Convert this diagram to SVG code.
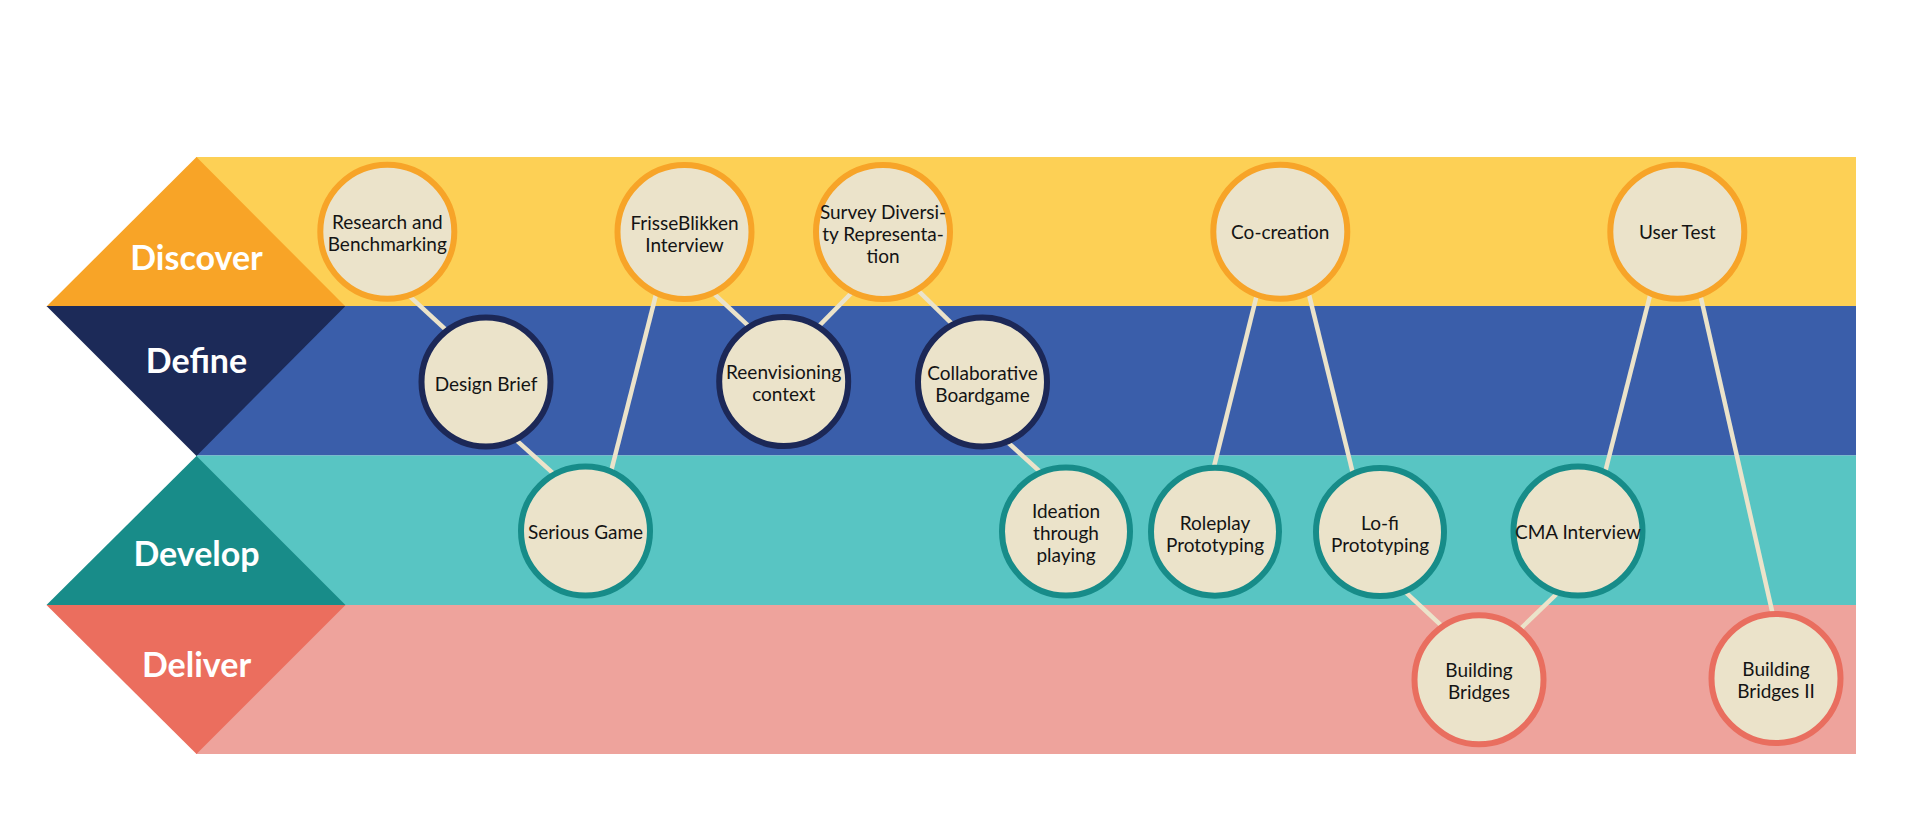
<svg xmlns="http://www.w3.org/2000/svg" width="1920" height="831" viewBox="0 0 1920 831">
  <style>
    .band-discover { fill: #fdd055; }
    .band-define { fill: #3a5eaa; }
    .band-develop { fill: #58c5c3; }
    .band-deliver { fill: #eea39c; }
    .tri-discover { fill: #f8a427; }
    .tri-define { fill: #1c2a58; }
    .tri-develop { fill: #188c89; }
    .tri-deliver { fill: #eb6e5e; }
    .phase { font-family: Lato, "Liberation Sans", sans-serif; font-weight: 700; font-size: 34px; fill: #ffffff; text-anchor: middle; }
    .node circle { fill: #ebe3ca; stroke-width: 6; }
    .n-discover circle { stroke: #f7a428; }
    .n-define circle { stroke: #1c2857; }
    .n-develop circle { stroke: #178c89; }
    .n-deliver circle { stroke: #e96e5f; }
    .node text { font-family: Lato, "Liberation Sans", sans-serif; font-size: 19px; fill: #141414; text-anchor: middle; }
    .connectors line { stroke: #ebe3ca; stroke-width: 4.5; stroke-linecap: butt; }
  </style>

  <rect x="0" y="0" width="1920" height="831" fill="#ffffff"/>

  <g id="bands">
    <rect class="band-discover" x="196" y="157" width="1660" height="149.5"/>
    <rect class="band-define" x="196" y="306" width="1660" height="149.5"/>
    <rect class="band-develop" x="196" y="455.5" width="1660" height="149.5"/>
    <rect class="band-deliver" x="196" y="605" width="1660" height="149"/>
  </g>

  <g id="phases">
    <g id="phase-discover">
      <polygon class="tri-discover" points="196.5,157 46.5,306.5 345.5,306.5"/>
      <text class="phase" x="196.5" y="269.5">Discover</text>
    </g>
    <g id="phase-define">
      <polygon class="tri-define" points="46.5,306 345.5,306 196.5,456"/>
      <text class="phase" x="196.5" y="373">Define</text>
    </g>
    <g id="phase-develop">
      <polygon class="tri-develop" points="196.5,456 46.5,605 345.5,605"/>
      <text class="phase" x="196.5" y="566">Develop</text>
    </g>
    <g id="phase-deliver">
      <polygon class="tri-deliver" points="46.5,605 345.5,605 196.5,754"/>
      <text class="phase" x="196.5" y="676.5">Deliver</text>
    </g>
  </g>

  <g id="connectors" class="connectors">
    <line x1="401.4" y1="288.6" x2="454.9" y2="338.1"/>
    <line x1="509" y1="433.6" x2="561" y2="480.4"/>
    <line x1="658.7" y1="283.9" x2="608.7" y2="480.8"/>
    <line x1="705.8" y1="286.2" x2="755.2" y2="332.1"/>
    <line x1="858.3" y1="286" x2="812.7" y2="332.4"/>
    <line x1="911" y1="283.7" x2="959" y2="330.6"/>
    <line x1="1000.1" y1="435.3" x2="1047.6" y2="478.7"/>
    <line x1="1259.2" y1="285.5" x2="1211.4" y2="477.1"/>
    <line x1="1306.4" y1="283.9" x2="1355.2" y2="482.8"/>
    <line x1="1652.7" y1="285" x2="1603" y2="480.5"/>
    <line x1="1698.2" y1="285.5" x2="1775.1" y2="624.5"/>
    <line x1="1399.1" y1="586.2" x2="1449.2" y2="632.8"/>
    <line x1="1565.8" y1="585.1" x2="1512.5" y2="636.6"/>
  </g>

  <g id="node-research" class="node n-discover">
    <circle cx="387.3" cy="231.7" r="67"/>
    <text x="387.3" y="229">Research and</text>
    <text x="387.3" y="251">Benchmarking</text>
  </g>
  <g id="node-frisseblikken" class="node n-discover">
    <circle cx="684.5" cy="232" r="67"/>
    <text x="684.5" y="229.5">FrisseBlikken</text>
    <text x="684.5" y="251.5">Interview</text>
  </g>
  <g id="node-survey" class="node n-discover">
    <circle cx="883" cy="232" r="67"/>
    <text x="883" y="218.5">Survey Diversi-</text>
    <text x="883" y="240.5">ty Representa-</text>
    <text x="883" y="262.5">tion</text>
  </g>
  <g id="node-cocreation" class="node n-discover">
    <circle cx="1280.3" cy="231.7" r="67"/>
    <text x="1280.3" y="239.3">Co-creation</text>
  </g>
  <g id="node-usertest" class="node n-discover">
    <circle cx="1677.3" cy="231.7" r="67"/>
    <text x="1677.3" y="239.3">User Test</text>
  </g>

  <g id="node-designbrief" class="node n-define">
    <circle cx="486" cy="382" r="64.5"/>
    <text x="486" y="390.5">Design Brief</text>
  </g>
  <g id="node-reenvisioning" class="node n-define">
    <circle cx="783.7" cy="381.5" r="64.5"/>
    <text x="783.7" y="379.3">Reenvisioning</text>
    <text x="783.7" y="401.3">context</text>
  </g>
  <g id="node-collaborative" class="node n-define">
    <circle cx="982.5" cy="382" r="64.5"/>
    <text x="982.5" y="379.5">Collaborative</text>
    <text x="982.5" y="401.5">Boardgame</text>
  </g>

  <g id="node-seriousgame" class="node n-develop">
    <circle cx="585.5" cy="531" r="64.5"/>
    <text x="585.5" y="539">Serious Game</text>
  </g>
  <g id="node-ideation" class="node n-develop">
    <circle cx="1066" cy="531.5" r="64"/>
    <text x="1066" y="517.5">Ideation</text>
    <text x="1066" y="539.5">through</text>
    <text x="1066" y="561.5">playing</text>
  </g>
  <g id="node-roleplay" class="node n-develop">
    <circle cx="1215" cy="531.7" r="64"/>
    <text x="1215" y="529.5">Roleplay</text>
    <text x="1215" y="551.5">Prototyping</text>
  </g>
  <g id="node-lofi" class="node n-develop">
    <circle cx="1380" cy="532" r="64"/>
    <text x="1380" y="529.5">Lo-fi</text>
    <text x="1380" y="551.5">Prototyping</text>
  </g>
  <g id="node-cma" class="node n-develop">
    <circle cx="1578" cy="531" r="64.5"/>
    <text x="1578" y="538.5">CMA Interview</text>
  </g>

  <g id="node-buildingbridges" class="node n-deliver">
    <circle cx="1479" cy="679.7" r="64.5"/>
    <text x="1479" y="677.3">Building</text>
    <text x="1479" y="699.3">Bridges</text>
  </g>
  <g id="node-buildingbridges2" class="node n-deliver">
    <circle cx="1776" cy="678.5" r="64.5"/>
    <text x="1776" y="676.3">Building</text>
    <text x="1776" y="698.3">Bridges II</text>
  </g>
</svg>
